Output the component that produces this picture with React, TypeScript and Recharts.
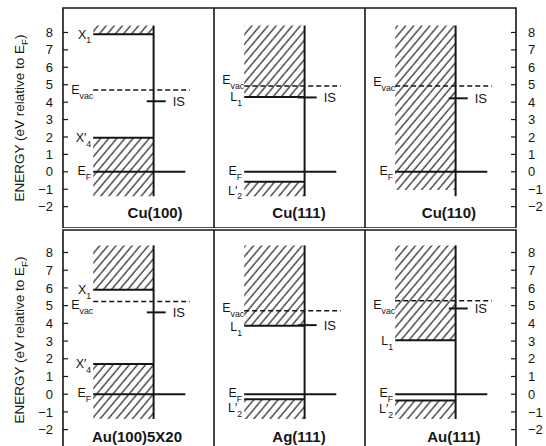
import React from 'react';
import { ComposedChart, XAxis, YAxis, ReferenceArea, ReferenceLine, ReferenceDot } from 'recharts';

// ---------- data ----------
const surfaces = ['Cu(100)', 'Cu(111)', 'Cu(110)', 'Au(100)5X20', 'Ag(111)', 'Au(111)'];
const vacuumLevel = [4.7, 4.93, 4.93, 5.24, 4.71, 5.28];
const imageState = [4.05, 4.27, 4.22, 4.62, 3.9, 4.84];
const gapTop: (number | null)[] = [7.9, 4.3, null, 5.9, 3.86, 3.04];
const gapBottom: (number | null)[] = [1.95, -0.57, null, 1.71, -0.28, -0.35];
const gapTopBase = ['X', 'L', '', 'X', 'L', 'L'];
const gapTopSub = ['1', '1', '', '1', '1', '1'];
const gapBottomBase = ['X', 'L', '', 'X', 'L', 'L'];
const gapBottomSub = ['4', '2', '', '4', '2', '2'];
const bandTop = 8.4;
const bandBottom = -1.4;
const fermiLevel = 0;
const energyTicks = [-2, -1, 0, 1, 2, 3, 4, 5, 6, 7, 8];

// ---------- layout ----------
const FONT = '"Liberation Sans", Arial, Helvetica, sans-serif';
const INK = '#161616';
const HATCH_L = 0.2;
const EDGE = 0.6;
const FERMI_R = 0.81;
const VAC_R = 0.84;
const IS_L = 0.555;
const IS_R = 0.68;
const titleCenter = [0.61, 0.563, 0.556, 0.49, 0.563, 0.589];
const vacLabelDy = [4.5, -1.5, 0, 7.5, 1, 8.5];
const rowDomains: [number, number][] = [
  [-3.226, 9.405],
  [-3.151, 9.271],
];

const fmt = (v: number) => (v < 0 ? '\u2212' + Math.abs(v) : String(v));

type SymProps = {
  cx?: number;
  cy?: number;
  base: string;
  prime?: boolean;
  sub?: string;
  dx?: number;
  dy?: number;
  anchor?: 'start' | 'end' | 'middle';
  size?: number;
  bold?: boolean;
};

const Sym = ({ cx = 0, cy = 0, base, prime, sub, dx = 0, dy = 0, anchor = 'end', size = 12.5, bold }: SymProps) => (
  <text
    x={cx + dx}
    y={cy + dy}
    textAnchor={anchor}
    fontFamily={FONT}
    fontSize={size}
    fontWeight={bold ? 'bold' : 'normal'}
    fill={INK}
  >
    <tspan>{base}</tspan>
    {prime ? <tspan>{'\u2032'}</tspan> : null}
    {sub ? (
      <tspan fontSize={size * 0.7} dy={size * 0.38}>
        {sub}
      </tspan>
    ) : null}
  </text>
);

const LeftTick = (props: any) => {
  const { x, y, payload } = props;
  return (
    <g>
      <line x1={x} x2={x + 5} y1={y} y2={y} stroke={INK} strokeWidth={1.2} />
      <text x={x - 10} y={y + 4.6} textAnchor="end" fontFamily={FONT} fontSize={13} fill={INK}>
        {fmt(payload.value)}
      </text>
    </g>
  );
};

const RightTick = (props: any) => {
  const { x, y, payload } = props;
  return (
    <g>
      <line x1={x} x2={x - 5} y1={y} y2={y} stroke={INK} strokeWidth={1.2} />
      <text x={x + 12} y={y + 4.6} textAnchor="start" fontFamily={FONT} fontSize={13} fill={INK}>
        {fmt(payload.value)}
      </text>
    </g>
  );
};

const AxisTitle = (props: any) => {
  const vb = props.viewBox || { x: 0, y: 0, width: 63, height: 220 };
  const bx = vb.x + 24;
  const cy = vb.y + vb.height / 2;
  return (
    <text
      transform={`rotate(-90 ${bx} ${cy})`}
      x={bx}
      y={cy}
      textAnchor="middle"
      fontFamily={FONT}
      fontSize={13.5}
      fill={INK}
    >
      ENERGY (eV relative to E
      <tspan fontSize={9.5} dy={3.5}>
        F
      </tspan>
      <tspan dy={-3.5}>)</tspan>
    </text>
  );
};

function panelElements(i: number, c: number, hatchId: string) {
  const y = 'e';
  const els: React.ReactNode[] = [];
  const fill = `url(#${hatchId})`;
  const gt = gapTop[i];
  const gb = gapBottom[i];
  if (gt == null || gb == null) {
    els.push(
      <ReferenceArea key={`h${i}`} yAxisId={y} x1={c + HATCH_L} x2={c + EDGE} y1={bandBottom + 0.35} y2={bandTop} fill={fill} fillOpacity={1} stroke="none" />
    );
  } else {
    els.push(
      <ReferenceArea key={`hu${i}`} yAxisId={y} x1={c + HATCH_L} x2={c + EDGE} y1={gt} y2={bandTop} fill={fill} fillOpacity={1} stroke="none" />,
      <ReferenceArea key={`hl${i}`} yAxisId={y} x1={c + HATCH_L} x2={c + EDGE} y1={bandBottom} y2={gb} fill={fill} fillOpacity={1} stroke="none" />,
      <ReferenceLine key={`gt${i}`} yAxisId={y} segment={[{ x: c + HATCH_L, y: gt }, { x: c + EDGE, y: gt }]} stroke={INK} strokeWidth={2} />,
      <ReferenceLine key={`gb${i}`} yAxisId={y} segment={[{ x: c + HATCH_L, y: gb }, { x: c + EDGE, y: gb }]} stroke={INK} strokeWidth={2} />,
      <ReferenceDot
        key={`gtl${i}`}
        yAxisId={y}
        x={c + HATCH_L}
        y={gt}
        r={0}
        shape={(p: any) => <Sym cx={p.cx} cy={p.cy} dx={-2} dy={i === 4 ? 5.5 : 4.5} base={gapTopBase[i]} sub={gapTopSub[i]} />}
      />,
      <ReferenceDot
        key={`gbl${i}`}
        yAxisId={y}
        x={c + HATCH_L}
        y={gb}
        r={0}
        shape={(p: any) => (
          <Sym cx={p.cx} cy={p.cy} dx={-2} dy={gb > 0.5 ? 4.5 : 13} base={gapBottomBase[i]} prime sub={gapBottomSub[i]} />
        )}
      />
    );
  }
  // surface edge (vertical line)
  els.push(
    <ReferenceLine key={`v${i}`} yAxisId={y} segment={[{ x: c + EDGE, y: bandBottom }, { x: c + EDGE, y: bandTop }]} stroke={INK} strokeWidth={2} />
  );
  // Fermi level
  els.push(
    <ReferenceLine key={`f${i}`} yAxisId={y} segment={[{ x: c + HATCH_L, y: fermiLevel }, { x: c + FERMI_R, y: fermiLevel }]} stroke={INK} strokeWidth={2} />,
    <ReferenceDot
      key={`fl${i}`}
      yAxisId={y}
      x={c + HATCH_L}
      y={fermiLevel}
      r={0}
      shape={(p: any) => <Sym cx={p.cx} cy={p.cy} dx={-2} dy={3} base="E" sub="F" />}
    />
  );
  // vacuum level
  els.push(
    <ReferenceLine
      key={`vac${i}`}
      yAxisId={y}
      segment={[{ x: c + HATCH_L, y: vacuumLevel[i] }, { x: c + VAC_R, y: vacuumLevel[i] }]}
      stroke={INK}
      strokeWidth={1.5}
      strokeDasharray="5 3"
    />,
    <ReferenceDot
      key={`vacl${i}`}
      yAxisId={y}
      x={c + HATCH_L}
      y={vacuumLevel[i]}
      r={0}
      shape={(p: any) => <Sym cx={p.cx} cy={p.cy} dx={0} dy={vacLabelDy[i]} base="E" sub="vac" />}
    />
  );
  // image state
  els.push(
    <ReferenceLine
      key={`is${i}`}
      yAxisId={y}
      segment={[{ x: c + IS_L, y: imageState[i] }, { x: c + IS_R, y: imageState[i] }]}
      stroke={INK}
      strokeWidth={2}
    />,
    <ReferenceDot
      key={`isl${i}`}
      yAxisId={y}
      x={c + IS_R}
      y={imageState[i]}
      r={0}
      shape={(p: any) => <Sym cx={p.cx} cy={p.cy} dx={7} dy={4.8} anchor="start" size={13} base="IS" />}
    />
  );
  // title
  els.push(
    <ReferenceDot
      key={`t${i}`}
      yAxisId={y}
      x={c + titleCenter[i]}
      y={-2.68}
      r={0}
      shape={(p: any) => <Sym cx={p.cx} cy={p.cy} anchor="middle" size={15} bold base={surfaces[i]} />}
    />
  );
  return els;
}

const Row = ({ row, top }: { row: number; top: number }) => {
  const domain = rowDomains[row];
  const hatchId = `hatch${row}`;
  const idx = [row * 3, row * 3 + 1, row * 3 + 2];
  const data = idx.map((i, c) => ({ x: c + 0.5, name: surfaces[i] }));
  return (
    <div style={{ position: 'absolute', left: 0, top }}>
      <ComposedChart width={546} height={222} data={data} margin={{ top: 2, right: 0, bottom: 0, left: 0 }}>
        <defs>
          <pattern id={hatchId} patternUnits="userSpaceOnUse" width={6.2} height={10} patternTransform="rotate(40)">
            <line x1={1} y1={-1} x2={1} y2={11} stroke={INK} strokeWidth={1.15} />
          </pattern>
        </defs>
        <XAxis xAxisId={0} dataKey="x" type="number" domain={[0, 3]} allowDataOverflow hide />
        <YAxis
          yAxisId="e"
          orientation="left"
          width={63}
          type="number"
          domain={domain}
          allowDataOverflow
          ticks={energyTicks}
          interval={0}
          axisLine={false}
          tickLine={false}
          tickSize={0}
          tickMargin={0}
          tick={<LeftTick />}
          label={<AxisTitle />}
        />
        <YAxis
          yAxisId="r"
          orientation="right"
          width={30}
          type="number"
          domain={domain}
          allowDataOverflow
          ticks={energyTicks}
          interval={0}
          axisLine={false}
          tickLine={false}
          tickSize={0}
          tickMargin={0}
          tick={<RightTick />}
        />
        {idx.map((i, c) => panelElements(i, c, hatchId))}
        <ReferenceArea
          yAxisId="e"
          x1={0}
          x2={3}
          y1={domain[0]}
          y2={domain[1]}
          fill="none"
          stroke={INK}
          strokeWidth={1.6}
          ifOverflow="visible"
        />
        <ReferenceLine yAxisId="e" x={1} stroke={INK} strokeWidth={1.6} />
        <ReferenceLine yAxisId="e" x={2} stroke={INK} strokeWidth={1.6} />
      </ComposedChart>
    </div>
  );
}

export default function App() {
  return (
    <div
      style={{
        position: 'absolute',
        left: 0,
        top: 0,
        width: 546,
        height: 446,
        overflow: 'hidden',
        background: '#fff',
      }}
    >
      <Row row={0} top={6} />
      <Row row={1} top={228} />
    </div>
  );
}
